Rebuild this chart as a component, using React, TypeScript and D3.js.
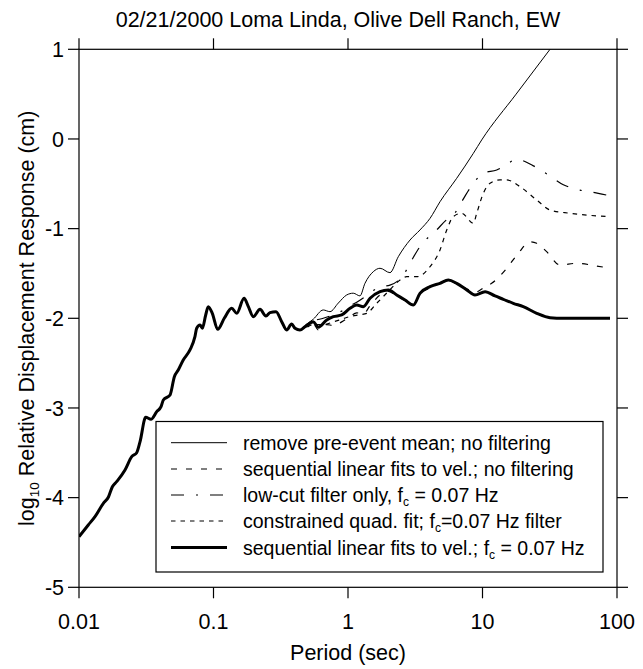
import React from "react";
import * as d3 from "d3";

const titleText = "02/21/2000 Loma Linda, Olive Dell Ranch, EW";
const xTickValues = [0.01, 0.1, 1, 10, 100];
const xTickLabels = ["0.01", "0.1", "1", "10", "100"];
const yTickValues = [1, 0, -1, -2, -3, -4, -5];
const yTickLabels = ["1", "0", "-1", "-2", "-3", "-4", "-5"];

// shared portion (all five records overlap at short periods)
const commonPeriod = [
  0.01, 0.01172, 0.01315, 0.01517, 0.01652, 0.0177, 0.01905, 0.02198, 0.02466, 0.02685,
  0.02844, 0.03133, 0.03428, 0.03784, 0.04074, 0.04236, 0.04753, 0.05117, 0.0547, 0.05957,
  0.06683, 0.07278, 0.07499, 0.07943, 0.0826, 0.0875, 0.0914, 0.09795, 0.1074, 0.1202,
  0.1365, 0.1489, 0.1687, 0.1816, 0.1977, 0.2218, 0.2455, 0.263, 0.2917, 0.3214,
  0.3499, 0.3811, 0.4036, 0.4395,
];
const commonResp = [
  -4.435, -4.305, -4.212, -4.063, -3.996, -3.878, -3.822, -3.692, -3.543, -3.499,
  -3.376, -3.104, -3.126, -3.041, -2.986, -2.911, -2.855, -2.651, -2.577, -2.465,
  -2.353, -2.205, -2.111, -2.075, -2.111, -1.963, -1.87, -1.944, -2.123, -2.0,
  -1.888, -1.944, -1.777, -1.87, -1.982, -1.9, -1.974, -1.937, -1.926, -2.038,
  -2.13, -2.063, -2.111, -2.13,
];

// remove pre-event mean; no filtering
const meanPeriod = [0.4786, 0.5521, 0.6546, 0.7345, 0.8472, 0.9772, 1.094, 1.227, 1.337, 1.542, 1.73, 2.051, 2.366, 2.891, 3.428, 4.074, 4.831, 6.427, 8.551, 9.863, 17.78, 31.77];
const meanResp = [-2.08, -2.01, -1.907, -1.926, -1.83, -1.74, -1.72, -1.75, -1.61, -1.48, -1.442, -1.491, -1.313, -1.127, -1.015, -0.885, -0.7, -0.439, -0.16, -0.011, 0.5, 1.0];

// sequential linear fits to vel.; no filtering
const seqPeriod = [0.4786, 0.5521, 0.6012, 0.695, 0.778, 0.8974, 1.035, 1.161, 1.3, 1.459, 1.73, 1.995, 2.301, 2.655, 3.062, 3.428, 4.074, 4.831, 5.572, 6.427, 7.638, 8.79, 10.45, 11.7, 15.14, 18.45, 22.54, 25.29, 29.99, 37.67, 50.12, 70.63, 88.72];
const seqResp = [-2.1, -2.06, -2.13, -2.07, -2.08, -2.04, -1.98, -1.94, -1.95, -1.86, -1.74, -1.7, -1.75, -1.8, -1.84, -1.73, -1.66, -1.61, -1.57, -1.62, -1.67, -1.71, -1.65, -1.61, -1.442, -1.275, -1.146, -1.163, -1.257, -1.405, -1.387, -1.417, -1.442];

// low-cut filter only, fc = 0.07 Hz
const lowCutPeriod = [0.4786, 0.5521, 0.6546, 0.778, 0.8974, 1.035, 1.161, 1.337, 1.542, 1.73, 2.051, 2.576, 2.979, 3.428, 4.56, 5.42, 6.067, 6.998, 8.072, 10.14, 12.76, 14.29, 17.95, 23.88, 30.83, 39.9, 53.09, 72.61, 88.72];
const lowCutResp = [-2.09, -2.03, -2.0, -1.96, -1.92, -1.86, -1.82, -1.76, -1.69, -1.65, -1.63, -1.52, -1.35, -1.2, -1.015, -0.9, -0.85, -0.7, -0.55, -0.383, -0.346, -0.31, -0.227, -0.3, -0.4, -0.51, -0.57, -0.606, -0.635];

// constrained quad. fit; fc=0.07 Hz filter
const quadPeriod = [0.4786, 0.5521, 0.6546, 0.778, 0.8974, 1.035, 1.227, 1.377, 1.633, 1.995, 2.438, 2.729, 3.243, 4.074, 4.831, 5.42, 6.067, 6.998, 8.551, 9.057, 10.14, 11.38, 13.49, 15.14, 19.01, 25.29, 31.77, 44.77, 88.72];
const quadResp = [-2.11, -2.07, -2.07, -2.04, -2.01, -1.98, -1.96, -1.945, -1.833, -1.7, -1.573, -1.536, -1.536, -1.424, -1.238, -1.015, -0.866, -0.829, -0.94, -0.829, -0.606, -0.494, -0.457, -0.457, -0.532, -0.681, -0.792, -0.829, -0.866];

// sequential linear fits to vel.; fc = 0.07 Hz
const seqFiltPeriod = [0.4786, 0.5521, 0.6012, 0.695, 0.778, 0.8974, 1.035, 1.161, 1.3, 1.459, 1.73, 1.995, 2.301, 2.655, 3.062, 3.428, 4.074, 4.831, 5.572, 6.427, 7.638, 8.79, 10.45, 12.39, 14.29, 16.94, 20.09, 25.29, 31.77, 39.9, 88.72];
const seqFiltResp = [-2.094, -2.038, -2.1, -2.019, -1.982, -1.963, -1.888, -1.852, -1.87, -1.777, -1.703, -1.684, -1.74, -1.796, -1.852, -1.721, -1.647, -1.61, -1.573, -1.61, -1.684, -1.74, -1.703, -1.751, -1.788, -1.833, -1.87, -1.944, -1.993, -2.0, -2.0];

const seriesLabels = [
  "remove pre-event mean; no filtering",
  "sequential linear fits to vel.; no filtering",
  "low-cut filter only, f_c = 0.07 Hz",
  "constrained quad. fit; f_c=0.07 Hz filter",
  "sequential linear fits to vel.; f_c = 0.07 Hz",
];

const W = 643;
const H = 669;
const M = { left: 79, right: 617, top: 49.3, bottom: 587.3 };
const FONT = "'Liberation Sans', Arial, Helvetica, sans-serif";

function LabelText({ text, x, y, size }: { text: string; x: number; y: number; size: number }) {
  // handle f_c subscript
  const parts = text.split("f_c");
  const out: any[] = [];
  parts.forEach((p, i) => {
    if (i > 0) {
      out.push(<tspan key={"f" + i}>f</tspan>);
      out.push(
        <tspan key={"c" + i} fontSize={size * 0.62} dy={size * 0.22}>
          c
        </tspan>
      );
      out.push(
        <tspan key={"p" + i} dy={-size * 0.22}>
          {p}
        </tspan>
      );
    } else if (p) {
      out.push(<tspan key={"s" + i}>{p}</tspan>);
    }
  });
  return (
    <text x={x} y={y} fontSize={size} fontFamily={FONT} fill="#000">
      {out}
    </text>
  );
}

export default function App() {
  const x = d3.scaleLog().domain([0.01, 100]).range([M.left, M.right]);
  const y = d3.scaleLinear().domain([-5, 1]).range([M.bottom, M.top]);
  const line = d3
    .line<[number, number]>()
    .x((d) => x(d[0]))
    .y((d) => y(d[1]))
    .curve(d3.curveMonotoneX);

  const build = (p: number[], r: number[]): [number, number][] => [
    ...commonPeriod.map((t, i) => [t, commonResp[i]] as [number, number]),
    ...p.map((t, i) => [t, r[i]] as [number, number]),
  ];

  const series = [
    { data: build(meanPeriod, meanResp), width: 1, dash: "none" },
    { data: build(seqPeriod, seqResp), width: 1.2, dash: "6,9" },
    { data: build(lowCutPeriod, lowCutResp), width: 1.2, dash: "13,12,2,12" },
    { data: build(quadPeriod, quadResp), width: 1.2, dash: "4.5,5" },
    { data: build(seqFiltPeriod, seqFiltResp), width: 3, dash: "none" },
  ];

  const tick = 11;
  const legend = { x0: 156, x1: 603, y0: 421.5, y1: 572, lx0: 171, lx1: 227, tx: 243, rowY: [442.7, 469, 495, 521, 547.5] };

  return (
    <svg
      width={W}
      height={H}
      viewBox={`0 0 ${W} ${H}`}
      style={{ position: "absolute", left: 0, top: 0, background: "#fff", display: "block" }}
    >
      <rect x={0} y={0} width={W} height={H} fill="#fff" />
      <defs>
        <clipPath id="plotClip">
          <rect x={M.left} y={M.top} width={M.right - M.left} height={M.bottom - M.top} />
        </clipPath>
      </defs>

      <text x={338} y={27} textAnchor="middle" fontSize={21.5} fontFamily={FONT} fill="#000">
        {titleText}
      </text>

      {/* frame */}
      <rect x={M.left} y={M.top} width={M.right - M.left} height={M.bottom - M.top} fill="none" stroke="#000" strokeWidth={1.2} />

      {/* x ticks bottom & top */}
      {xTickValues.map((v, i) => (
        <g key={"xt" + i}>
          <line x1={x(v)} x2={x(v)} y1={M.bottom} y2={M.bottom + tick} stroke="#000" strokeWidth={1.2} />
          <line x1={x(v)} x2={x(v)} y1={M.top} y2={M.top - tick} stroke="#000" strokeWidth={1.2} />
          <text x={x(v)} y={629} textAnchor="middle" fontSize={21.5} fontFamily={FONT} fill="#000">
            {xTickLabels[i]}
          </text>
        </g>
      ))}
      {/* y ticks left & right */}
      {yTickValues.map((v, i) => (
        <g key={"yt" + i}>
          <line x1={M.left - tick} x2={M.left} y1={y(v)} y2={y(v)} stroke="#000" strokeWidth={1.2} />
          <line x1={M.right} x2={M.right + tick} y1={y(v)} y2={y(v)} stroke="#000" strokeWidth={1.2} />
          <text x={64} y={y(v)} dy="0.36em" textAnchor="end" fontSize={21.5} fontFamily={FONT} fill="#000">
            {yTickLabels[i]}
          </text>
        </g>
      ))}

      <text x={348} y={660} textAnchor="middle" fontSize={21.5} fontFamily={FONT} fill="#000">
        Period (sec)
      </text>
      <text
        transform={`translate(34,${(M.top + M.bottom) / 2}) rotate(-90)`}
        textAnchor="middle"
        fontSize={21.5}
        fontFamily={FONT}
        fill="#000"
      >
        <tspan>log</tspan>
        <tspan fontSize={13.5} dy={5}>10</tspan>
        <tspan dy={-5}> Relative Displacement Response (cm)</tspan>
      </text>

      {/* curves */}
      <g clipPath="url(#plotClip)">
        {series.map((s, i) => (
          <path
            key={"s" + i}
            d={line(s.data) || ""}
            fill="none"
            stroke="#000"
            strokeWidth={s.width}
            strokeDasharray={s.dash}
            strokeLinejoin="round"
          />
        ))}
      </g>

      {/* legend */}
      <rect
        x={legend.x0}
        y={legend.y0}
        width={legend.x1 - legend.x0}
        height={legend.y1 - legend.y0}
        fill="#fff"
        stroke="#000"
        strokeWidth={1.2}
      />
      {series.map((s, i) => (
        <g key={"lg" + i}>
          <line
            x1={legend.lx0}
            x2={legend.lx1}
            y1={legend.rowY[i]}
            y2={legend.rowY[i]}
            stroke="#000"
            strokeWidth={s.width}
            strokeDasharray={s.dash}
          />
          <LabelText text={seriesLabels[i]} x={legend.tx} y={legend.rowY[i] + 7} size={19.5} />
        </g>
      ))}
    </svg>
  );
}
